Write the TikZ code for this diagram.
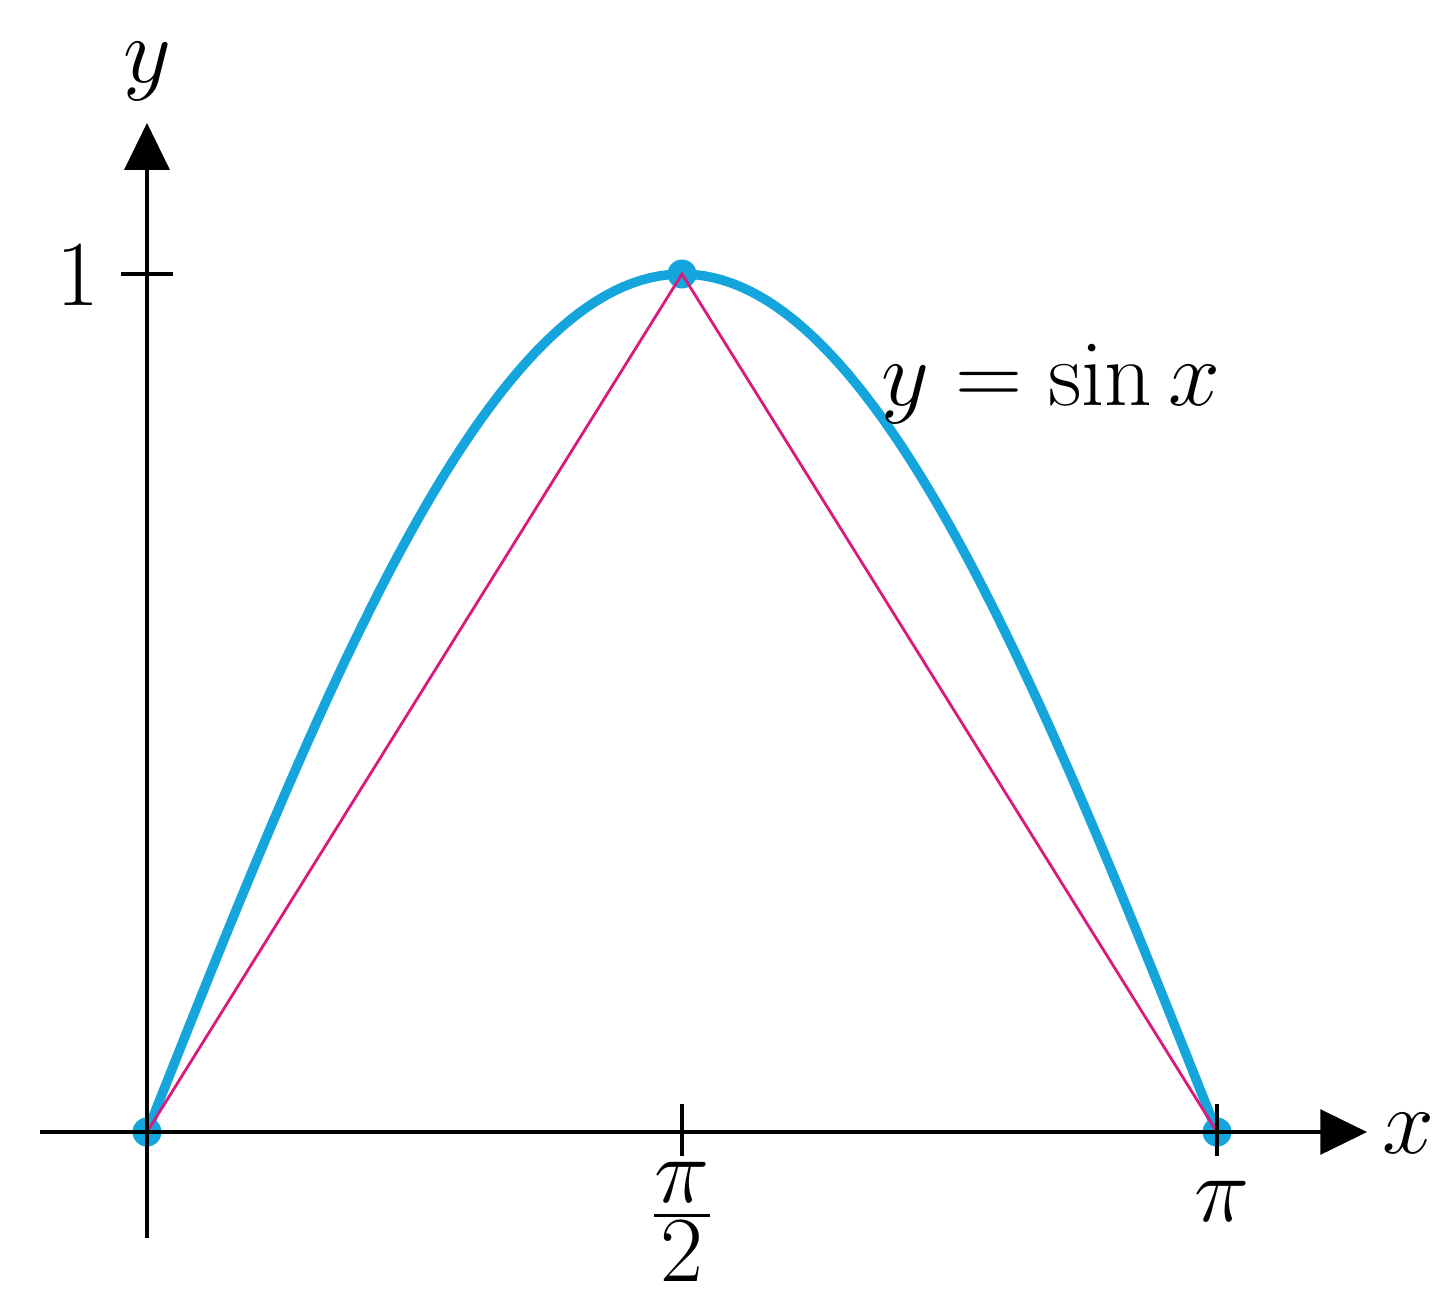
\RequirePackage{fix-cm}
\documentclass[tikz,border=0pt]{standalone}
\usepackage{amsmath}
\usetikzlibrary{arrows.meta}
\definecolor{curveblue}{RGB}{20,165,220}
\definecolor{chordmag}{RGB}{220,25,125}
\begin{document}
\begin{tikzpicture}[x=0.01cm,y=-0.01cm,
  axisline/.style={line width=0.9pt,black},
  axisarrow/.style={axisline,-{Triangle[length=13.3pt,width=12.8pt]}},
  tickline/.style={line width=0.9pt,black},
  curveline/.style={line width=2.7pt,curveblue},
  chord/.style={line width=0.8pt,chordmag},
  dotpt/.style={circle,fill=curveblue,inner sep=0pt,minimum size=0.29cm},
  lbl/.style={inner sep=0pt,font=\fontsize{26.5}{31}\selectfont}]
\useasboundingbox (0,0) rectangle (1455,1293);
% coordinates
\coordinate (xstart) at (40,1132);
\coordinate (xend) at (1367,1132);
\coordinate (ystart) at (147,1238);
\coordinate (yend) at (147,123);
\coordinate (t1a) at (121,274);
\coordinate (t1b) at (173,274);
\coordinate (t2a) at (682,1104);
\coordinate (t2b) at (682,1156);
\coordinate (t3a) at (1217,1104);
\coordinate (t3b) at (1217,1156);
% curve
\draw[curveline] plot[domain=0:180,samples=120] ({147+\x*5.944444},{1132-858*sin(\x)});
% points
\node[dotpt] (O) at (147,1132) {};
\node[dotpt] (P) at (682,274) {};
\node[dotpt] (Q) at (1217,1132) {};
% chords
\draw[chord,line join=miter] (O.center) -- (P.center) -- (Q.center);
% axes
\draw[axisarrow] (xstart) -- (xend);
\draw[axisarrow] (ystart) -- (yend);
\draw[tickline] (t1a) -- (t1b);
\draw[tickline] (t2a) -- (t2b);
\draw[tickline] (t3a) -- (t3b);
% labels
\node[lbl,anchor=base] (ylab) at (147,82) {$y$};
\node[lbl,anchor=base west] (xlab) at (1382,1153) {$x$};
\node[lbl,anchor=base east] (onelab) at (100,305) {$1$};
\node[lbl,anchor=base] (pilab) at (1222,1221) {$\pi$};
\node[lbl,anchor=base] (halfpilab) at (682,1239) {$\frac{\displaystyle\pi}{\displaystyle 2}$};
\node[lbl,anchor=base west] (fnlab) at (881,405) {$y = \sin x$};
\end{tikzpicture}
\end{document}
